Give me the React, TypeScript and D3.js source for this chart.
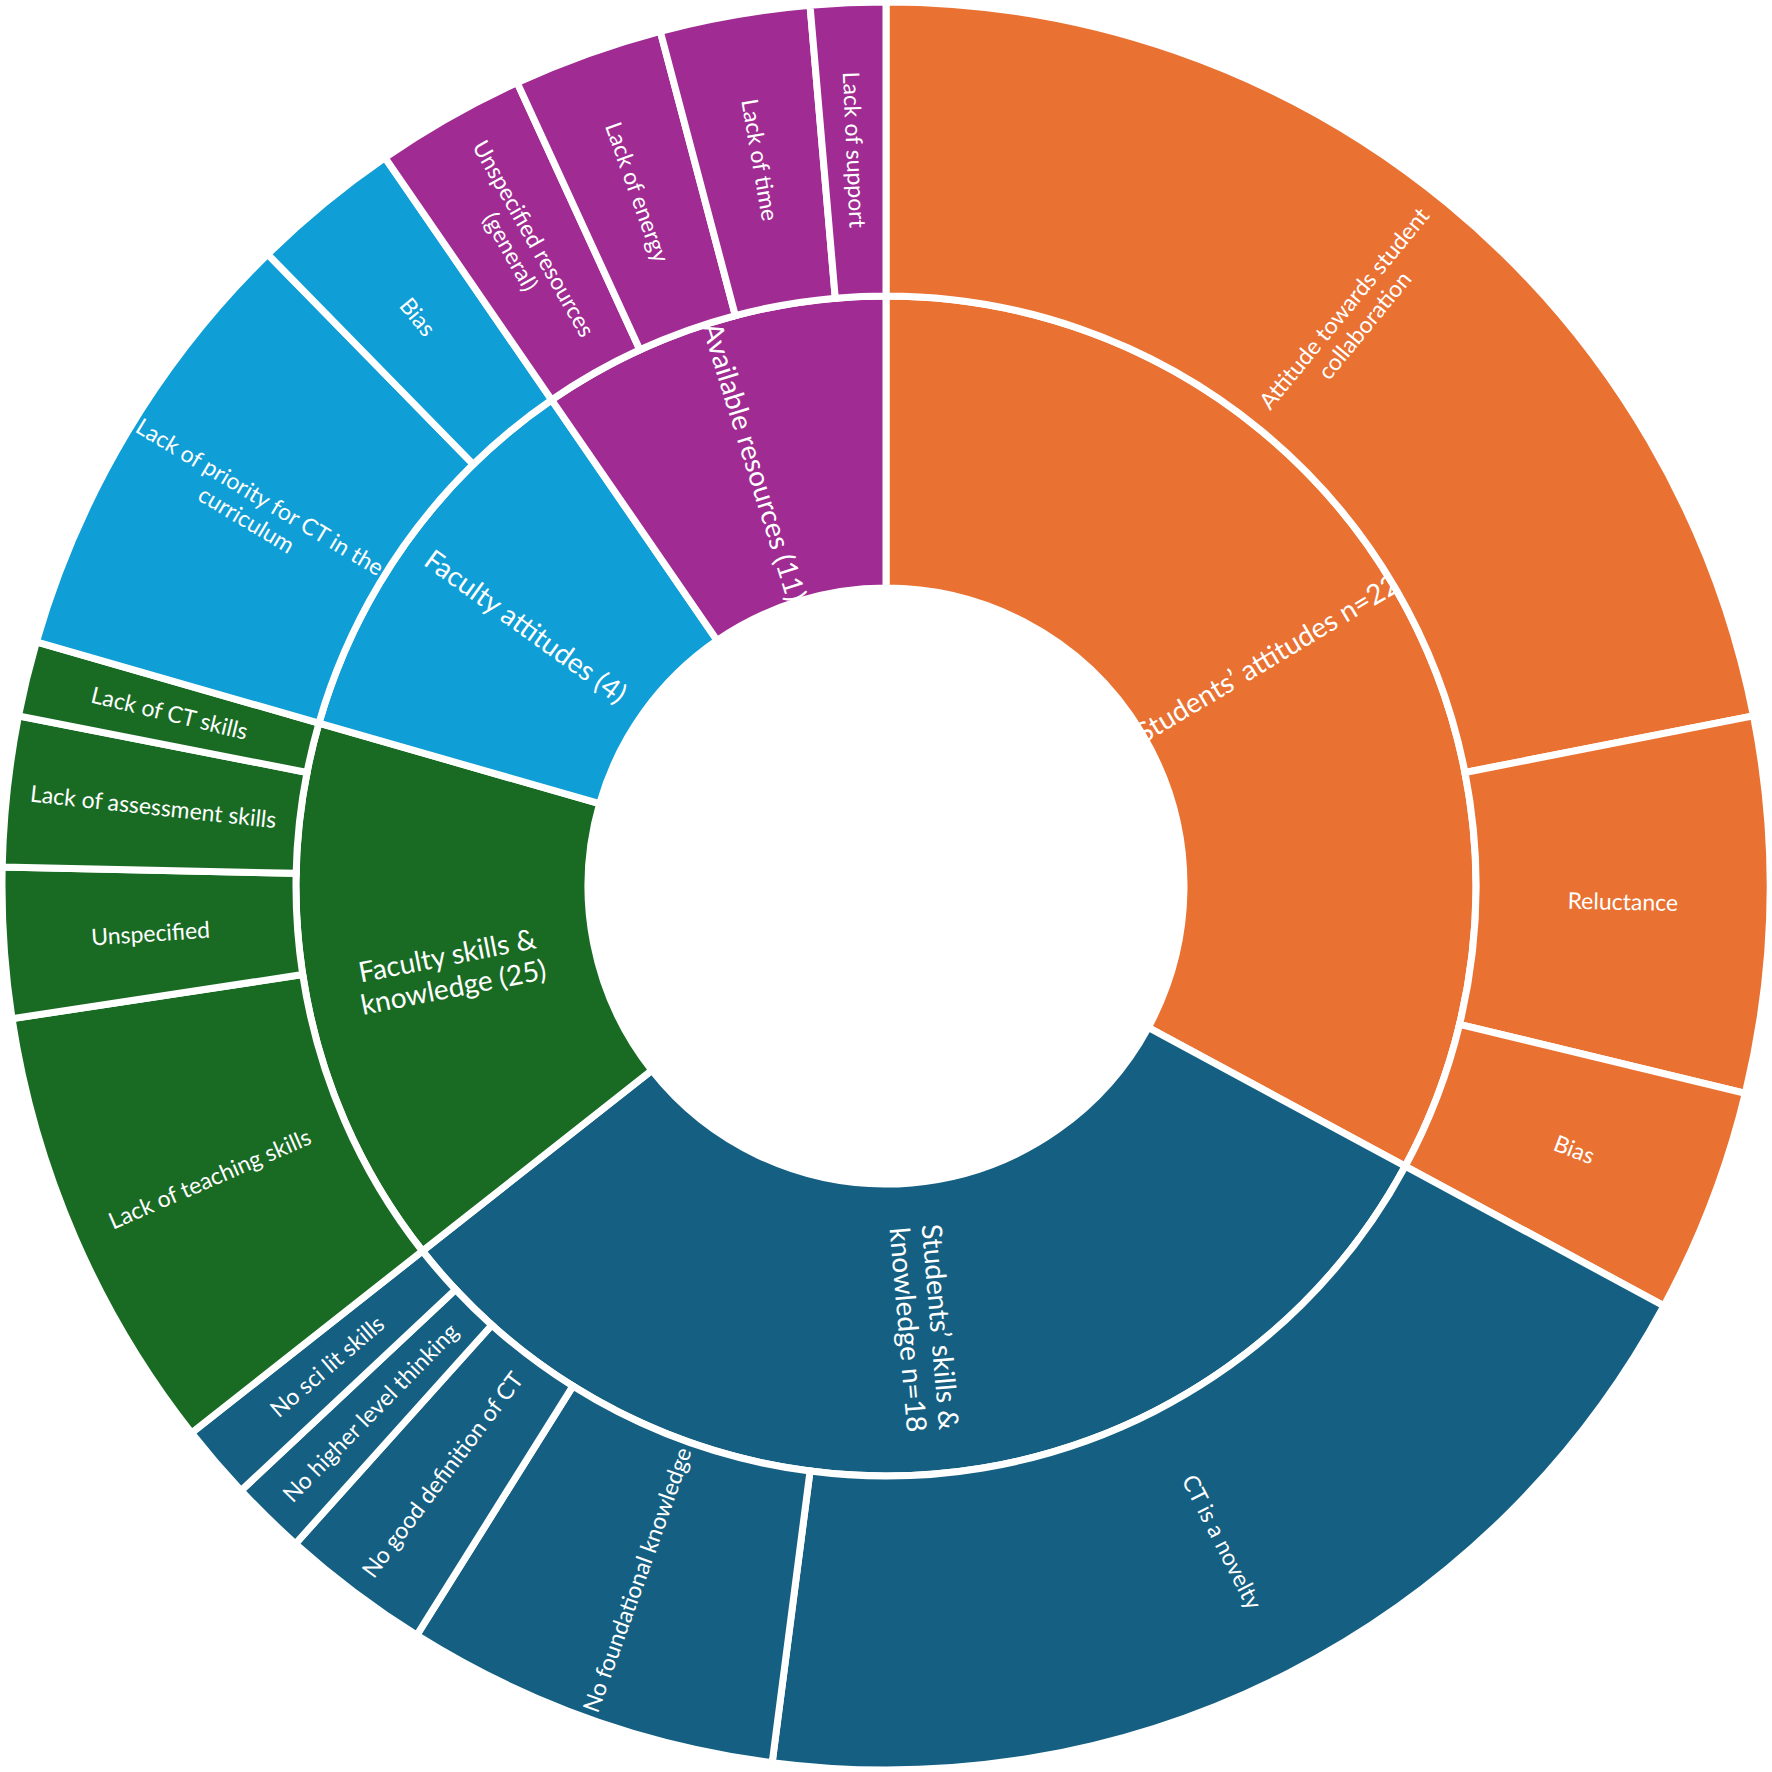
import React from "react";
import * as d3 from "d3";

const categories = [
  "Students’ attitudes n=22",
  "Students’ skills &\nknowledge n=18",
  "Faculty skills &\nknowledge (25)",
  "Faculty attitudes (4)",
  "Available resources (11)",
];
const categoryColors = ["#E97132", "#156082", "#196B24", "#0F9ED5", "#A02B93"];

const subStudentsAttitudes = ["Attitude towards student\ncollaboration", "Reluctance", "Bias"];
const valStudentsAttitudes = [16, 5, 3];
const subStudentsSkills = [
  "CT is a novelty",
  "No foundational knowledge",
  "No good definition of CT",
  "No higher level thinking",
  "No sci lit skills",
];
const valStudentsSkills = [14, 5, 2, 1, 1];
const subFacultySkills = ["Lack of teaching skills", "Unspecified", "Lack of assessment skills", "Lack of CT skills"];
const valFacultySkills = [6, 2, 2, 1];
const subFacultyAttitudes = ["Lack of priority for CT in the\ncurriculum", "Bias"];
const valFacultyAttitudes = [6, 2];
const subResources = ["Unspecified resources\n(general)", "Lack of energy", "Lack of time", "Lack of support"];
const valResources = [2, 2, 2, 1];

const subNames = [subStudentsAttitudes, subStudentsSkills, subFacultySkills, subFacultyAttitudes, subResources];
const subValues = [valStudentsAttitudes, valStudentsSkills, valFacultySkills, valFacultyAttitudes, valResources];

type Node = { name: string; value?: number; color?: string; children?: Node[] };

export default function App() {
  const W = 1772;
  const cx = 886;
  const cy = 886;
  const radii = [0, 298, 590, 884];

  const data: Node = {
    name: "root",
    children: categories.map((c, i) => ({
      name: c,
      color: categoryColors[i],
      children: subNames[i].map((s, j) => ({ name: s, value: subValues[i][j], color: categoryColors[i] })),
    })),
  };

  const root = d3.hierarchy<Node>(data).sum((d) => d.value || 0);
  d3.partition<Node>().size([2 * Math.PI, 3])(root);
  const nodes = root.descendants().filter((d) => d.depth > 0) as any[];

  const arc = d3
    .arc<any>()
    .startAngle((d) => d.x0)
    .endAngle((d) => d.x1)
    .innerRadius((d) => radii[d.depth])
    .outerRadius((d) => radii[d.depth + 1]);

  return (
    <svg width={W} height={W} style={{ position: "absolute", left: 0, top: 0, background: "#fff" }}>
      <g transform={`translate(${cx},${cy})`}>
        {nodes.map((d, i) => (
          <path key={"p" + i} d={arc(d) || ""} fill={d.data.color} stroke="#fff" strokeWidth={7} strokeLinejoin="miter" />
        ))}
        {nodes.map((d, i) => {
          const [x, y] = arc.centroid(d);
          const mid = ((d.x0 + d.x1) / 2) * (180 / Math.PI);
          const rot = mid < 180 ? mid - 90 : mid - 270;
          const lines = String(d.data.name).split("\n");
          const fs = d.depth === 1 ? 28 : 23;
          const lh = fs * 1.15;
          return (
            <text
              key={"t" + i}
              transform={`translate(${x},${y}) rotate(${rot})`}
              textAnchor="middle"
              fill="#fff"
              fontFamily="Lato, 'Open Sans', sans-serif"
              fontSize={fs}
            >
              {lines.map((l, k) => (
                <tspan key={k} x={0} y={(k - (lines.length - 1) / 2) * lh} dy="0.35em">
                  {l}
                </tspan>
              ))}
            </text>
          );
        })}
      </g>
    </svg>
  );
}
